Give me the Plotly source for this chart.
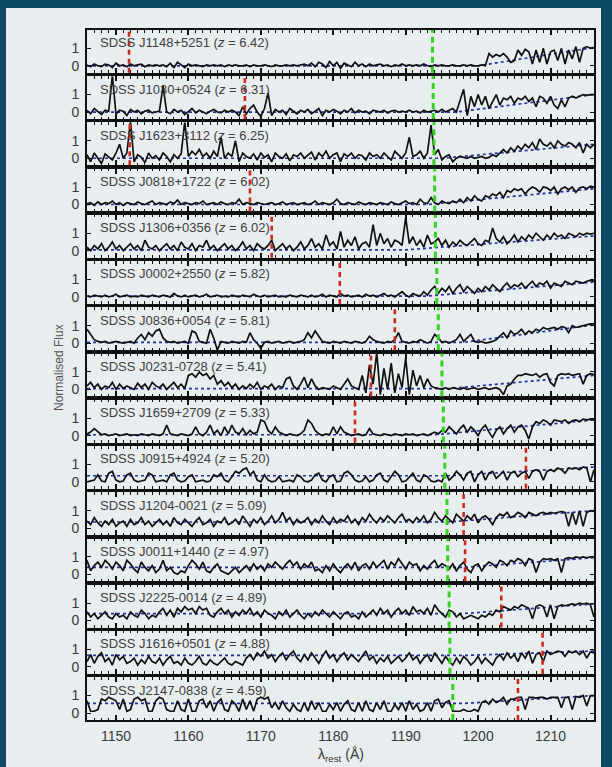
import numpy as np
import plotly.graph_objects as go
from plotly.subplots import make_subplots

# ---------------- data ----------------
lam_start, lam_end, lam_step = 1146.0, 1216.0, 0.5

names = ["SDSS J1148+5251", "SDSS J1030+0524", "SDSS J1623+3112", "SDSS J0818+1722",
         "SDSS J1306+0356", "SDSS J0002+2550", "SDSS J0836+0054", "SDSS J0231-0728",
         "SDSS J1659+2709", "SDSS J0915+4924", "SDSS J1204-0021", "SDSS J0011+1440",
         "SDSS J2225-0014", "SDSS J1616+0501", "SDSS J2147-0838"]
redshifts = ["6.42", "6.31", "6.25", "6.02", "6.02", "5.82", "5.81", "5.41",
             "5.33", "5.20", "5.09", "4.97", "4.89", "4.88", "4.59"]
red_lines = [1151.8, 1167.8, 1151.9, 1168.5, 1171.5, 1180.9, 1188.5, 1185.2,
             1183.0, 1206.6, 1198.0, 1198.2, 1203.2, 1208.9, 1205.5]
green_lines = [1193.7, 1193.8, 1193.9, 1194.0, 1194.1, 1194.3, 1194.5, 1195.0,
               1195.2, 1195.4, 1195.7, 1195.8, 1196.0, 1196.1, 1196.5]
cont_flat = [0.0, 0.0, 0.0, 0.0, 0.05, 0.05, 0.05, 0.05, 0.05, 0.35, 0.35, 0.4, 0.4, 0.65, 0.55]
cont_break = [1200, 1197, 1195, 1193, 1190, 1193, 1198, 1196, 1194, 1196, 1196, 1198, 1198, 1198, 1198]
cont_end = [1.05, 1.0, 0.8, 0.9, 0.85, 0.85, 1.05, 0.8, 0.9, 0.85, 1.0, 0.95, 0.95, 0.9, 1.0]

flux_J1148 = [
    0.05,-0.05,0.1,0.0,-0.05,0.1,0.05,-0.1,0.15,0.0, 0.05,-0.05,0.1,0.0,0.05,0.1,-0.05,0.05,0.0,0.05,
    0.0,0.05,-0.05,0.15,-0.1,0.2,0.05,-0.1,0.1,0.0, 0.05,0.0,-0.05,0.05,0.0,0.05,0.0,0.05,-0.05,0.05,
    0.0,0.05,0.0,0.0,0.05,-0.05,0.05,0.0,0.0,0.05, 0.0,-0.05,0.05,0.0,0.0,0.05,0.0,0.05,0.0,0.05,
    0.1,0.0,0.15,-0.05,0.2,0.1,-0.1,0.25,0.0,0.2, -0.15,0.15,0.05,-0.05,0.2,0.0,0.1,-0.05,0.1,0.0,
    0.05,0.1,0.0,0.05,-0.05,0.05,0.0,0.1,0.0,0.05, 0.0,0.05,0.0,0.1,0.0,-0.05,0.05,0.0,0.05,0.0,
    0.0,0.05,0.0,0.0,0.05,0.0,0.05,0.0,0.0,0.05, 0.0,0.7,0.5,0.65,0.55,0.7,0.5,0.2,0.3,0.9,
    0.6,0.95,0.8,0.1,0.9,0.2,1.0,0.1,0.8,0.9, 0.3,1.0,0.1,0.9,0.4,1.1,0.2,1.0,1.1,1.0,
    1.05]
flux_J1030 = [
    0.1,-0.1,0.2,0.0,-0.15,0.1,0.05,2.1,-0.1,0.1, 0.05,-0.2,0.15,0.0,0.1,-0.1,0.05,0.1,-0.05,0.0,
    0.05,1.5,0.0,-0.1,0.15,0.0,0.1,-0.15,0.05,0.2, -0.05,0.1,0.0,-0.1,0.05,0.15,0.0,-0.05,0.1,0.0,
    0.1,0.0,-0.2,0.3,-0.1,0.2,0.4,0.0,-0.25,0.2, 1.1,-0.2,0.15,0.0,0.1,-0.15,0.2,0.05,-0.1,0.1,
    0.0,0.15,-0.1,0.05,0.2,-0.2,0.1,0.0,0.15,0.05, -0.1,0.1,0.0,0.2,-0.05,0.1,0.0,0.05,-0.1,0.1,
    0.05,0.0,0.1,-0.05,0.05,0.1,0.0,0.05,0.0,0.1, 0.0,0.05,-0.05,0.1,0.0,0.05,0.1,0.0,0.15,0.0,
    0.1,0.2,0.0,0.6,1.3,-0.2,0.9,0.3,1.0,0.4, 0.9,0.2,0.6,1.0,0.4,0.8,0.7,0.9,0.5,0.8,
    0.7,0.9,0.6,0.8,0.3,0.9,0.8,0.5,0.9,0.4, 0.2,0.7,0.3,0.8,0.9,0.8,0.9,1.0,0.95,1.0,
    1.0]
flux_J1623 = [
    0.2,-0.2,0.3,0.0,-0.3,0.25,0.1,-0.1,0.3,0.8, 0.0,0.3,2.1,-0.2,0.2,0.05,-0.25,0.3,0.0,0.15,
    -0.1,0.3,0.1,-0.2,0.2,0.0,0.25,2.1,0.1,0.4, 0.2,0.5,0.1,0.3,0.0,0.4,0.1,1.2,0.0,0.3,
    0.1,1.0,-0.2,0.3,0.1,0.0,0.25,-0.1,0.3,0.05, 0.2,-0.2,0.3,0.1,0.0,0.25,-0.15,0.2,0.1,0.3,
    0.0,0.2,0.35,-0.1,0.3,0.1,0.4,0.0,0.2,0.3, -0.2,0.25,0.1,0.3,0.0,0.2,0.15,-0.1,0.3,0.1,
    0.2,0.0,0.3,0.1,-0.1,0.4,0.2,0.0,0.3,1.2, 0.1,0.2,0.4,0.0,0.3,1.9,0.2,0.5,-0.1,0.1,
    0.2,-0.2,0.0,0.1,0.05,0.0,0.1,0.0,0.05,0.1, 0.0,0.05,0.2,0.1,0.3,0.5,0.3,0.6,0.4,0.7,
    0.5,0.8,0.6,0.9,0.5,1.1,0.8,0.7,0.9,0.6, 1.0,0.8,0.7,0.9,0.8,0.6,0.9,0.3,0.8,0.6,
    0.8]
flux_J0818 = [
    0.05,0.1,-0.05,0.15,0.0,0.1,0.05,0.2,0.0,0.1, -0.05,0.1,0.05,0.0,0.15,0.05,0.0,0.1,0.2,0.0,
    0.1,0.05,0.0,0.15,0.05,0.25,0.0,0.1,0.05,0.0, 0.1,0.05,0.2,0.0,0.05,0.1,0.0,0.15,0.05,0.0,
    0.1,0.05,0.3,0.0,0.1,0.05,0.0,0.1,0.05,0.0, 0.05,0.1,0.0,0.05,0.15,0.0,0.05,0.1,0.0,0.05,
    0.1,0.0,0.05,0.2,0.0,0.1,0.05,0.0,0.1,0.3, 0.05,0.0,0.1,0.05,0.0,0.15,0.05,0.0,0.1,0.05,
    0.0,0.1,0.05,0.0,0.15,0.05,0.0,0.1,0.2,0.05, 0.1,0.0,0.3,0.1,0.05,0.4,0.1,0.0,0.2,0.1,
    0.05,0.2,0.1,0.3,0.1,0.4,0.2,0.5,0.3,0.2, 0.5,0.4,0.6,0.5,0.7,0.4,0.8,0.7,0.9,0.8,
    0.9,0.6,0.85,1.0,0.9,0.7,1.0,0.95,0.8,1.0, 0.6,0.9,1.0,0.85,1.0,0.7,0.95,1.0,0.9,1.05,
    1.0]
flux_J1306 = [
    0.2,0.0,0.3,0.1,0.4,0.0,0.2,0.5,0.1,0.3, 0.0,0.2,0.4,0.1,0.3,0.0,0.6,0.2,0.1,0.3,
    0.0,0.2,0.4,0.1,0.3,0.0,0.5,0.2,0.1,0.4, 0.0,0.3,0.2,0.6,0.1,0.3,0.0,0.2,0.4,0.1,
    0.3,0.0,0.2,0.5,0.1,0.3,0.0,0.4,0.2,0.1, 0.3,0.6,0.0,0.2,0.4,0.1,0.3,0.0,0.2,0.5,
    0.1,0.3,0.7,0.2,0.4,0.1,0.9,0.3,0.5,0.1, 1.1,0.2,0.6,0.3,0.8,0.1,0.4,0.5,0.2,1.5,
    0.3,1.0,0.4,0.7,0.2,0.6,0.5,0.3,1.9,0.4, 0.8,0.3,0.6,0.2,0.9,0.4,0.5,0.7,0.3,0.6,
    0.2,0.5,0.3,0.6,0.4,0.3,0.5,0.7,0.4,0.3, 0.6,0.5,1.3,0.7,0.5,0.8,0.4,0.6,0.9,0.5,
    0.8,0.6,0.9,0.7,1.0,0.8,0.6,0.9,0.7,1.0, 0.8,0.9,0.7,1.0,0.9,0.8,1.0,0.9,1.0,0.95,
    1.0]
flux_J0002 = [
    0.05,0.0,0.1,0.05,0.0,0.1,0.0,0.05,0.15,0.0, 0.05,0.1,0.0,0.05,0.0,0.1,0.05,0.0,0.1,0.05,
    0.0,0.1,0.05,0.0,0.2,0.05,0.0,0.1,0.0,0.05, 0.1,0.0,0.05,0.15,0.0,0.05,0.1,0.0,0.05,0.0,
    0.1,0.05,0.0,0.1,0.05,0.0,0.15,0.05,0.0,0.1, 0.0,0.05,0.1,0.0,0.05,0.0,0.1,0.05,0.0,0.1,
    0.05,0.0,0.1,0.0,0.05,0.15,0.0,0.1,0.05,0.0, 0.2,0.05,0.1,0.0,0.05,0.1,0.0,0.15,0.05,0.1,
    0.0,0.1,0.2,0.05,0.1,0.0,0.15,0.3,0.1,0.0, 0.2,0.1,0.05,0.3,0.1,0.4,0.6,0.2,0.5,0.3,
    0.6,0.2,0.5,0.7,0.3,0.6,0.4,0.2,0.5,0.3, 0.6,0.4,0.7,0.5,0.3,0.6,0.8,0.5,0.7,0.6,
    0.8,0.5,0.7,0.9,0.6,0.8,0.7,0.9,0.5,0.8, 0.7,0.6,0.9,0.8,0.7,0.9,0.85,0.8,0.9,0.95,
    0.9]
flux_J0836 = [
    0.8,0.5,0.2,0.1,0.05,0.1,0.0,0.05,0.1,0.05, 0.0,0.05,0.1,0.0,0.3,0.5,0.2,0.6,0.4,0.7,
    0.8,0.3,0.1,0.05,0.1,0.0,0.05,0.1,0.0,0.7, 0.6,0.1,0.05,0.0,0.8,0.3,-0.4,0.1,0.05,0.0,
    0.1,0.05,0.0,0.1,0.05,0.6,0.2,0.0,-0.3,0.05, 0.1,0.0,0.05,0.1,0.0,0.05,0.1,0.0,0.05,0.1,
    0.2,0.6,0.3,0.7,0.4,0.1,0.05,0.0,0.1,0.05, 0.0,0.1,0.05,0.0,0.1,0.05,0.0,0.1,0.4,0.2,
    0.1,0.05,0.0,0.1,0.05,0.2,0.6,0.1,0.05,0.0, 0.1,0.05,0.2,0.1,0.0,0.1,0.5,0.3,0.05,0.1,
    0.0,0.1,0.2,0.5,0.1,0.3,0.5,0.1,0.05,0.1, 0.0,0.05,0.1,0.2,0.4,0.6,0.3,0.7,0.5,0.6,
    0.8,0.5,0.7,0.6,0.8,0.7,0.9,0.8,0.85,0.9, 0.8,0.95,0.9,0.6,1.0,0.9,0.95,1.0,1.05,1.1,
    1.1]
flux_J0231 = [
    0.2,0.4,0.1,0.3,0.0,0.2,0.1,0.4,0.0,0.3, 0.05,0.2,0.1,0.0,0.35,0.1,0.3,0.0,0.4,0.2,
    0.1,0.3,0.0,0.2,0.4,0.1,0.3,0.05,0.8,0.9, 0.7,1.0,0.8,0.9,0.6,0.8,0.3,0.5,0.2,0.4,
    0.1,0.3,0.0,0.2,0.05,0.3,0.1,0.4,0.0,0.2, 0.1,0.3,0.0,0.2,0.1,0.6,0.7,0.2,0.0,0.3,
    0.7,0.1,0.6,0.2,0.0,0.1,0.05,0.0,0.2,0.1, 0.0,0.3,0.6,0.2,0.1,0.0,0.8,-0.2,1.4,0.3,
    2.1,-0.3,1.2,0.0,1.5,-0.2,0.9,0.1,1.8,-0.3, 1.1,0.2,0.8,0.1,0.6,0.2,0.1,0.05,0.0,0.1,
    0.0,0.1,0.05,0.0,0.1,0.0,0.05,0.1,0.0,0.05, 0.1,0.0,0.05,0.1,0.0,-0.3,0.2,0.3,0.6,0.8,
    0.8,0.9,0.85,0.8,0.9,0.7,0.85,0.9,0.4,0.2, 0.8,0.9,0.85,0.9,0.8,0.85,0.9,0.3,0.8,0.9,
    0.85]
flux_J1659 = [
    0.1,0.2,0.4,0.2,0.05,0.1,0.0,0.05,0.1,0.0, 0.05,0.1,0.0,0.05,0.0,0.1,0.05,0.0,0.1,0.05,
    0.0,0.1,0.6,0.1,0.05,0.0,0.1,0.05,0.0,0.1, 0.5,0.1,0.0,0.2,0.6,0.1,0.3,0.0,0.5,0.1,
    0.6,0.2,0.1,0.4,0.05,0.3,0.1,0.2,0.9,0.8, 0.3,0.1,0.5,0.2,0.1,0.0,0.1,0.05,0.0,0.1,
    0.3,0.9,0.7,0.3,0.1,0.0,0.1,0.05,0.5,0.1, 0.5,0.2,0.1,0.0,0.05,0.1,0.0,0.05,0.4,0.1,
    0.05,0.0,0.1,0.05,0.0,0.1,0.05,0.0,0.1,0.05, 0.1,0.0,0.05,0.1,0.0,0.1,0.2,0.1,0.3,0.2,
    0.5,0.3,0.1,0.4,0.6,0.2,0.5,0.3,0.0,0.4, 0.6,0.2,-0.1,0.3,0.5,0.1,0.4,0.6,0.2,0.5,
    0.6,0.3,-0.2,0.5,0.8,0.7,0.9,0.8,0.6,0.9, 0.85,0.8,0.9,0.7,0.85,0.9,0.8,0.95,0.9,0.95,
    0.9]
flux_J0915 = [
    0.0,0.05,0.1,0.4,0.05,0.0,0.5,0.6,0.1,0.0, 0.05,0.4,0.5,0.1,0.0,0.05,0.1,0.5,0.4,0.0,
    0.05,0.1,0.0,0.4,0.5,0.1,0.0,0.05,0.3,0.4, 0.0,0.05,0.1,0.0,0.05,0.4,0.3,0.5,0.1,0.0,
    0.3,0.6,0.5,0.7,0.8,0.4,0.6,0.1,0.0,0.4, 0.1,0.0,0.05,0.3,0.0,0.05,0.1,0.0,0.4,0.3,
    0.05,0.0,0.1,0.4,0.5,0.1,0.0,0.3,0.4,0.0, 0.05,0.5,0.6,0.4,0.1,0.0,0.05,0.3,0.0,0.1,
    0.4,0.5,0.1,0.0,0.3,0.6,0.4,0.0,0.05,0.3, 0.5,0.1,0.0,0.4,0.3,0.05,0.0,0.1,0.0,0.5,
    0.1,0.3,0.6,0.4,0.1,0.5,0.6,0.0,0.4,0.6, 0.1,0.5,0.6,0.2,0.4,0.6,0.1,0.5,0.6,0.3,
    0.5,0.6,0.2,0.6,0.7,0.6,0.1,0.6,0.7,0.6, 0.8,0.7,0.5,0.8,0.75,0.8,0.7,0.85,0.8,0.0,
    0.7]
flux_J1204 = [
    0.4,0.2,0.6,0.3,0.1,0.4,0.2,0.5,0.1,0.3, 0.4,0.1,0.5,0.2,0.3,0.6,0.2,0.4,0.1,0.3,
    0.5,0.2,0.4,0.1,0.6,0.3,0.2,0.5,0.3,0.1, 0.4,0.6,0.2,0.3,0.5,0.1,0.4,0.3,0.6,0.2,
    0.3,0.5,0.2,0.7,0.4,0.1,0.5,0.3,0.6,0.2, 0.4,0.7,0.3,0.5,0.9,0.4,0.6,0.2,0.5,0.3,
    0.4,0.6,0.2,0.5,0.3,0.7,0.4,0.2,0.6,0.3, 0.5,0.4,0.7,0.3,0.5,0.2,0.6,0.4,0.8,0.5,
    0.3,0.6,0.4,0.7,0.5,0.3,0.6,0.8,0.4,0.5, 0.3,0.6,0.4,0.7,0.3,0.5,0.9,0.6,0.4,0.7,
    0.5,0.3,0.8,0.6,0.4,0.7,0.5,0.8,0.3,0.6, 0.7,0.5,0.2,0.6,0.8,0.7,0.9,0.6,0.7,0.9,
    0.8,0.6,0.9,0.8,0.7,0.85,0.9,0.8,0.9,0.85, 0.9,0.95,0.9,0.1,0.9,0.2,1.0,0.1,0.9,1.0,
    0.95]
flux_J0011 = [
    0.8,0.2,0.5,0.7,0.4,0.8,0.6,0.3,0.7,0.5, 0.2,0.8,0.6,0.3,0.1,0.7,0.4,0.2,0.5,0.1,
    0.3,0.8,0.2,0.4,0.1,0.0,0.2,0.1,0.5,0.8, 0.6,0.3,0.7,0.2,0.1,0.4,0.6,0.2,0.1,0.0,
    0.2,0.4,0.1,0.3,0.5,0.2,0.6,0.3,0.5,0.2, 0.6,0.4,0.7,0.5,0.3,0.6,0.8,0.5,0.7,0.3,
    0.6,0.4,0.7,0.2,0.3,0.1,0.5,0.2,0.6,0.3, 0.1,0.4,0.6,0.3,0.7,0.2,0.5,0.6,0.3,0.7,
    0.4,0.6,0.8,0.3,0.7,0.5,0.9,0.6,0.3,0.7, 0.5,0.6,0.2,0.5,0.3,0.6,0.8,0.4,0.6,0.5,
    0.3,0.6,0.2,0.5,0.7,0.3,0.1,0.5,0.6,0.2, 0.5,0.7,0.6,0.4,0.8,0.7,0.5,0.8,0.7,0.9,
    0.8,0.5,0.9,0.8,0.1,0.7,0.9,0.85,0.9,0.8, 0.9,0.1,0.9,0.95,0.9,1.0,0.95,1.0,0.95,1.0,
    1.0]
flux_J2225 = [
    0.5,0.2,0.4,0.1,0.3,0.5,0.2,0.1,0.4,0.2, 0.3,0.1,0.5,0.3,0.2,0.6,0.4,0.1,0.3,0.2,
    0.5,0.7,0.3,0.6,0.2,0.7,0.5,0.8,0.6,0.7, 0.4,0.8,0.6,0.7,0.3,0.2,0.5,0.7,0.4,0.6,
    0.2,0.5,0.3,0.6,0.4,0.7,0.3,0.5,0.2,0.6, 0.4,0.3,0.1,0.5,0.3,0.6,0.2,0.4,0.6,0.3,
    0.1,0.4,0.2,0.5,0.3,0.6,0.4,0.2,0.5,0.3, 0.1,0.4,0.5,0.2,0.3,0.1,0.5,0.2,0.4,0.6,
    0.3,0.7,0.4,0.6,0.2,0.5,0.7,0.4,0.6,0.3, 0.8,0.5,0.6,0.4,0.7,0.3,0.9,0.6,0.4,0.2,
    0.6,0.5,0.2,0.4,0.1,0.2,0.3,0.2,0.1,0.3, 0.2,0.4,0.3,0.6,0.5,0.8,0.7,0.6,0.8,0.7,
    0.9,0.8,0.7,0.1,0.8,0.9,0.8,0.2,0.9,0.1, 0.8,0.9,0.85,0.9,0.95,0.9,1.0,0.95,1.0,0.9,
    0.2]
flux_J1616 = [
    0.3,0.7,0.2,0.6,0.8,0.3,0.5,0.1,0.7,0.4, 0.6,0.2,0.3,0.5,0.1,0.4,0.2,0.6,0.3,0.2,
    0.5,0.1,0.4,0.6,0.2,0.3,0.1,0.5,0.2,0.1, 0.3,0.6,0.2,0.1,0.4,0.2,0.1,0.3,0.5,0.2,
    0.1,0.3,0.2,0.1,0.5,0.7,0.4,0.8,0.6,0.9, 0.5,0.7,0.3,0.6,0.8,0.4,0.7,0.9,0.5,0.3,
    0.7,0.4,0.8,0.5,0.2,0.6,0.9,0.5,0.7,0.3, 0.6,0.8,0.4,0.7,0.5,0.3,0.6,0.9,0.4,0.6,
    0.2,0.5,0.3,0.6,0.2,0.4,0.6,0.3,0.5,0.8, 0.4,0.6,0.2,0.5,0.7,0.3,0.8,0.5,0.2,0.6,
    0.3,0.1,0.5,0.2,0.6,0.4,0.1,0.3,0.6,0.2, 0.5,0.3,0.1,0.5,0.7,0.4,0.8,0.5,0.7,0.3,
    0.8,0.5,0.9,0.2,0.7,0.8,0.3,0.9,0.7,0.8, 0.9,0.85,0.6,0.9,0.8,0.9,0.7,0.9,0.5,0.85,
    0.8]
flux_J2147 = [
    0.7,0.1,0.1,0.2,0.8,0.7,0.9,0.8,0.7,0.2, 0.8,0.1,0.2,0.8,0.9,0.7,0.8,0.1,0.1,0.7,
    0.9,0.8,0.2,0.1,0.1,0.7,0.2,0.1,0.8,0.1, 0.1,0.7,0.8,0.3,0.7,0.1,0.6,0.8,0.2,0.1,
    0.7,0.5,0.1,0.8,0.2,0.7,0.1,0.8,0.9,0.8, 0.9,0.3,0.6,0.2,0.7,0.3,0.1,0.5,0.2,0.1,
    0.6,0.1,0.7,0.2,0.6,0.1,0.1,0.5,0.2,0.6, 0.1,0.5,0.7,0.2,0.1,0.6,0.1,0.7,0.2,0.1,
    0.6,0.2,0.7,0.1,0.1,0.5,0.2,0.6,0.1,0.7, 0.2,0.5,0.1,0.2,0.6,0.1,0.7,0.8,0.3,0.6,
    0.7,0.1,0.1,0.1,0.2,0.1,0.1,0.2,0.1,0.6, 0.7,0.5,0.8,0.6,0.7,0.9,0.5,0.8,0.8,0.9,
    0.9,0.2,0.9,0.9,0.85,0.9,0.9,0.8,0.9,0.9, 0.9,0.3,0.9,0.9,0.2,0.95,0.9,1.0,0.4,1.0,
    1.0]

fluxes = [flux_J1148, flux_J1030, flux_J1623, flux_J0818, flux_J1306, flux_J0002,
          flux_J0836, flux_J0231, flux_J1659, flux_J0915, flux_J1204, flux_J0011,
          flux_J2225, flux_J1616, flux_J2147]

x_ticks = [1150, 1160, 1170, 1180, 1190, 1200, 1210]

# ---------------- figure ----------------
N = len(names)
lam = lam_start + lam_step * np.arange(int(round((lam_end - lam_start) / lam_step)) + 1)

fig = make_subplots(rows=N, cols=1, shared_xaxes=True, vertical_spacing=0.005)

FONT = "Liberation Sans, Arial, sans-serif"
for i in range(N):
    r = i + 1
    f = fluxes[i]
    fig.add_trace(go.Scatter(x=[lam_start, cont_break[i], lam_end],
                             y=[cont_flat[i], cont_flat[i], cont_end[i]],
                             mode="lines", line=dict(color="#26319c", width=1.7, dash="dot"),
                             hoverinfo="skip", showlegend=False), row=r, col=1)
    fig.add_trace(go.Scatter(x=lam[:len(f)], y=f, mode="lines",
                             line=dict(color="#111111", width=1.7),
                             showlegend=False), row=r, col=1)
    xr = "x" if r == 1 else f"x{r}"
    yr = "y domain" if r == 1 else f"y{r} domain"
    fig.add_shape(type="line", xref=xr, yref=yr, x0=red_lines[i], x1=red_lines[i], y0=0, y1=1,
                  line=dict(color="#cc2a1c", width=2.6, dash="5px,4px"))
    fig.add_shape(type="line", xref=xr, yref=yr, x0=green_lines[i], x1=green_lines[i], y0=0, y1=1,
                  line=dict(color="#35d21f", width=3, dash="6px,4px"))
    fig.add_annotation(xref=xr + " domain", yref=yr,
                       x=0.022, y=0.7, xanchor="left", yanchor="middle", showarrow=False,
                       text=f"{names[i]} (<i>z</i> = {redshifts[i]})",
                       font=dict(family=FONT, size=13, color="#404040"))

axis_font = dict(family=FONT, size=14, color="#3a3a3a")
fig.update_xaxes(range=[lam_start, lam_end], tickvals=x_ticks, ticks="inside", ticklen=5,
                 tickwidth=1.5, tickcolor="#111", showline=True, linecolor="#111", linewidth=2,
                 mirror="allticks", showgrid=False, zeroline=False, tickfont=axis_font,
                 minor=dict(dtick=1, tick0=1146, ticks="inside", ticklen=2.5, tickcolor="#111",
                            tickwidth=1, showgrid=False),
                 ticklabelstandoff=2)
fig.update_yaxes(range=[-0.4, 2.05], tickvals=[0, 1], ticktext=["0", "1"], ticks="inside",
                 ticklen=4, tickwidth=1.2, tickcolor="#111", showline=True, linecolor="#111",
                 linewidth=2, mirror="allticks", showgrid=False, zeroline=False,
                 tickfont=axis_font, ticklabelstandoff=3)

# axis titles
fig.add_annotation(xref="paper", yref="paper", x=0.5, y=(720 - 755) / 690, yanchor="middle",
                   text="λ<sub>rest</sub> (Å)", showarrow=False,
                   font=dict(family=FONT, size=14, color="#3a3a3a"))
fig.add_annotation(xref="paper", yref="paper", x=(50 - 87) / 507, y=(720 - 368) / 690,
                   text="Normalised Flux", textangle=-90, showarrow=False,
                   font=dict(family=FONT, size=12, color="#555555"))

# slide background (photographed slide inside dark frame)
fig.add_shape(type="rect", xref="paper", yref="paper", layer="below",
              x0=(6 - 87) / 507, x1=(601 - 87) / 507, y0=(720 - 800) / 690, y1=(720 - 8) / 690,
              line=dict(width=0), fillcolor="#e8edef")

fig.update_layout(width=612, height=767, margin=dict(l=87, r=18, t=30, b=47),
                  paper_bgcolor="#0e4a66", plot_bgcolor="rgba(0,0,0,0)", showlegend=False)

fig.write_html("out.html")
